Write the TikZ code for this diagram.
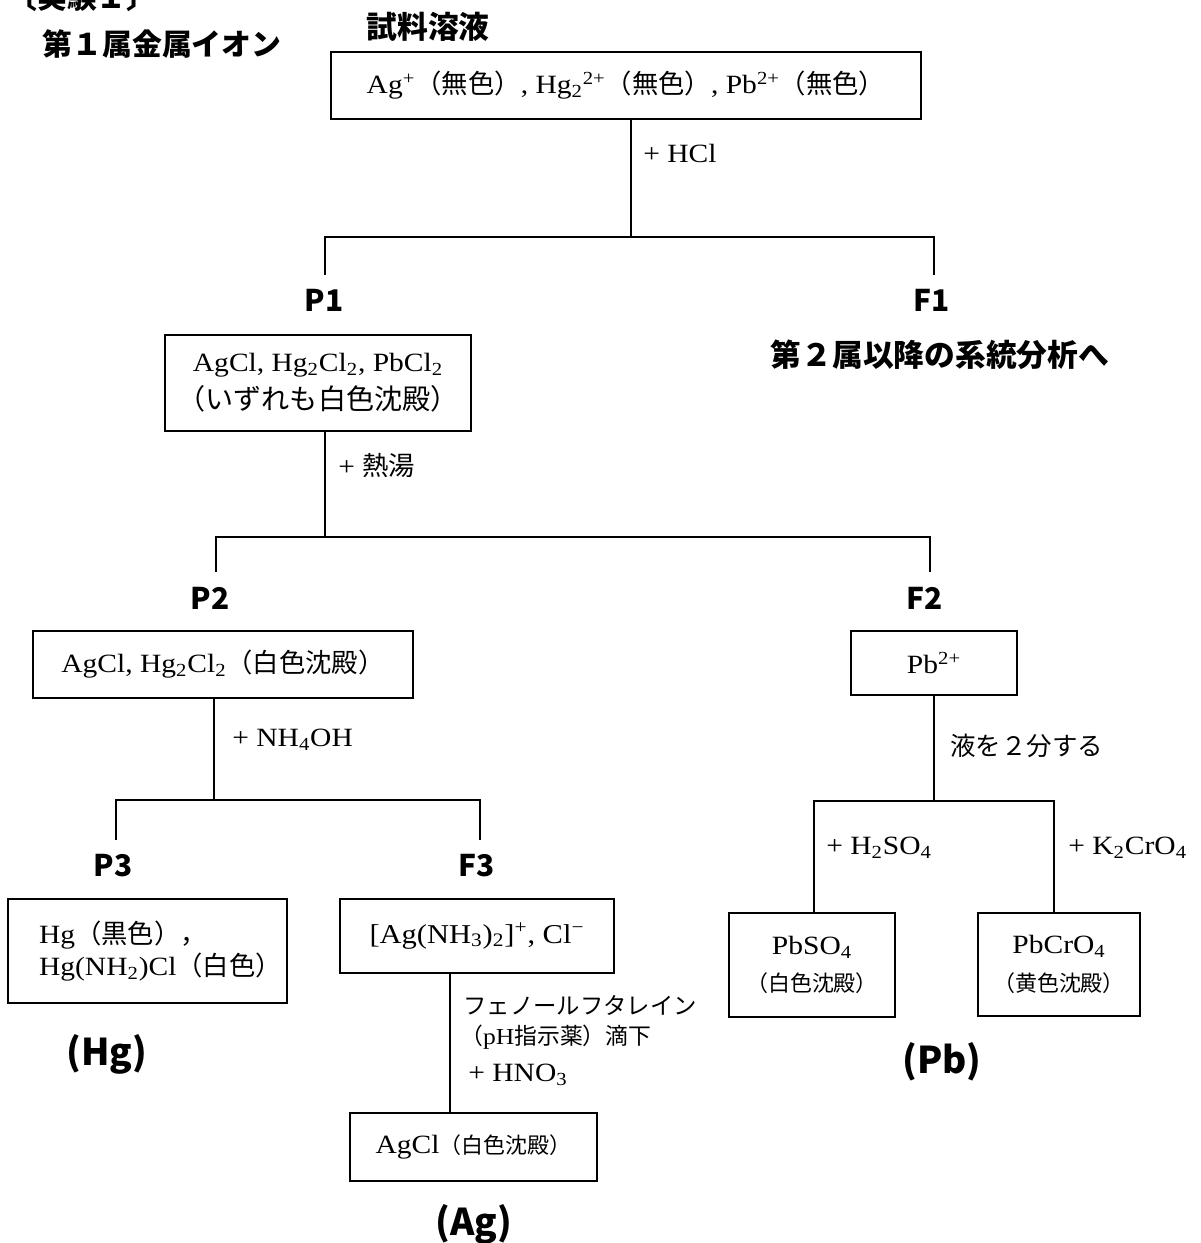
\documentclass[tikz,border=0pt]{standalone}
\usepackage{fontspec}
\setmainfont{Liberation Serif}[FakeStretch=1.12]
\newfontfamily\jp{Noto Sans CJK JP}
\newcommand\J[1]{{\jp #1}}
\newcommand\fsz[2]{\fontsize{#1}{#2}\selectfont}
\tikzset{
  box/.style={draw, line width=1.1pt, inner sep=0pt, align=center},
  conn/.style={line width=1.4pt},
  lbl/.style={font={\jp\bfseries\fsz{17pt}{20pt}}, inner sep=0pt},
  big/.style={font={\jp\bfseries\fsz{21pt}{24pt}}, inner sep=0pt},
  note/.style={anchor=west, inner sep=0pt, font={\fsz{15pt}{18pt}}},
}
\begin{document}
\begin{tikzpicture}[x=0.02cm,y=-0.02cm]
\useasboundingbox (0,0) rectangle (1200,1243);
\clip (0,0) rectangle (1200,1243);
% titles
\node[lbl] (exp) at (82,-3) {〔実験１〕};
\node[lbl] (grp) at (162,44) {第１属金属イオン};
\node[lbl, font={\jp\bfseries\fsz{17.5pt}{20pt}}] (smp) at (428,27) {試料溶液};
% boxes
\node[box, minimum width=11.8cm, minimum height=1.34cm, font={\fsz{15pt}{18pt}}] (src) at (626,85.5)
  {Ag\textsuperscript{+}\J{（無色）}, Hg\textsubscript{2}\textsuperscript{2+}\J{（無色）}, Pb\textsuperscript{2+}\J{（無色）}};
\node[box, minimum width=6.12cm, minimum height=1.92cm, font={\fsz{15pt}{21.5pt}}] (p1box) at (318,383)
  {AgCl, Hg\textsubscript{2}Cl\textsubscript{2}, PbCl\textsubscript{2}\\\J{\fsz{16pt}{21.5pt}（いずれも白色沈殿）}};
\node[box, minimum width=7.6cm, minimum height=1.34cm, font={\fsz{15pt}{18pt}}] (p2box) at (223,664.5)
  {AgCl, Hg\textsubscript{2}Cl\textsubscript{2}\J{（白色沈殿）}};
\node[box, minimum width=5.58cm, minimum height=2.08cm, align=left, font={\fsz{15pt}{18pt}}] (p3box) at (147.5,951)
  {\hspace*{0.52cm}Hg\J{（黒色），}\\\hspace*{0.52cm}Hg(NH\textsubscript{2})Cl\J{（白色）}};
\node[box, minimum width=5.48cm, minimum height=1.48cm, font={\fsz{15.5pt}{18pt}}] (f3box) at (477,936)
  {[Ag(NH\textsubscript{3})\textsubscript{2}]\textsuperscript{+}, Cl\textsuperscript{−}};
\node[box, minimum width=4.94cm, minimum height=1.36cm, font={\fsz{15pt}{18pt}}] (agbox) at (473.5,1147)
  {AgCl\J{\fsz{12.5pt}{15pt}（白色沈殿）}};
\node[box, minimum width=3.32cm, minimum height=1.28cm, font={\fsz{15pt}{18pt}}] (f2box) at (934,663)
  {Pb\textsuperscript{2+}};
\node[box, minimum width=3.32cm, minimum height=2.08cm, font={\fsz{15pt}{21.5pt}}] (so4box) at (812,965)
  {PbSO\textsubscript{4}\\\J{\fsz{12.5pt}{21.5pt}（白色沈殿）}};
\node[box, minimum width=3.24cm, minimum height=2.06cm, font={\fsz{15pt}{21.5pt}}] (cro4box) at (1059,964.5)
  {PbCrO\textsubscript{4}\\\J{\fsz{12.5pt}{21.5pt}（黄色沈殿）}};
% branch labels
\node[lbl] (P1) at (324,300) {P1};
\node[lbl] (F1) at (932,300) {F1};
\node[lbl, font={\jp\bfseries\fsz{17.5pt}{20pt}}] (next) at (940,355) {第２属以降の系統分析へ};
\node[lbl] (P2) at (210,598) {P2};
\node[lbl] (F2) at (925,598) {F2};
\node[lbl] (P3) at (113,866) {P3};
\node[lbl] (F3) at (477,866) {F3};
\node[big] (Hg) at (107,1054) {(Hg)};
\node[big] (Ag) at (474,1224) {(Ag)};
\node[big] (Pb) at (942,1062) {(Pb)};
% reagent notes
\node[note] (hcl) at (643,153) {+ HCl};
\node[note] (hot) at (338,465) {+ \J{熱湯}};
\node[note] (nh4) at (232,740) {+ NH\textsubscript{4}OH};
\node[note, font={\jp\fsz{14.5pt}{18pt}}] (half) at (950,746) {液を２分する};
\node[note] (h2so4) at (826,848) {+ H\textsubscript{2}SO\textsubscript{4}};
\node[note] (k2cro4) at (1068,848) {+ K\textsubscript{2}CrO\textsubscript{4}};
\node[note, font={\jp\fsz{13.3pt}{16pt}}] (phen) at (463,1005) {フェノールフタレイン};
\node[note, font={\fsz{13pt}{16pt}}] (ph) at (460,1037) {\J{（}pH\J{指示薬）滴下}};
\node[note] (hno3) at (468,1075) {+ HNO\textsubscript{3}};
% junction coordinates
\coordinate (j1) at (631,237);
\coordinate (p1top) at (325,275);
\coordinate (f1top) at (934,275);
\coordinate (j2) at (325,537);
\coordinate (p2top) at (216,572);
\coordinate (f2top) at (930,572);
\coordinate (j3) at (214,800);
\coordinate (p3top) at (116,840);
\coordinate (f3top) at (480,840);
\coordinate (agline) at (450,1040);
\coordinate (j4) at (934,801);
\coordinate (so4c) at (814,860);
\coordinate (cro4c) at (1054,860);
% connectors
\draw[conn] (src.south -| j1) -- (j1);
\draw[conn] (p1top) |- (j1) -| (f1top);
\draw[conn] (p1box.south -| j2) -- (j2);
\draw[conn] (p2top) |- (j2) -| (f2top);
\draw[conn] (p2box.south -| j3) -- (j3);
\draw[conn] (p3top) |- (j3) -| (f3top);
\draw[conn] (f3box.south -| agline) -- (agbox.north -| agline);
\draw[conn] (f2box.south -| j4) -- (j4);
\draw[conn] (so4box.north -| so4c) |- (j4) -| (cro4box.north -| cro4c);
\end{tikzpicture}
\end{document}
